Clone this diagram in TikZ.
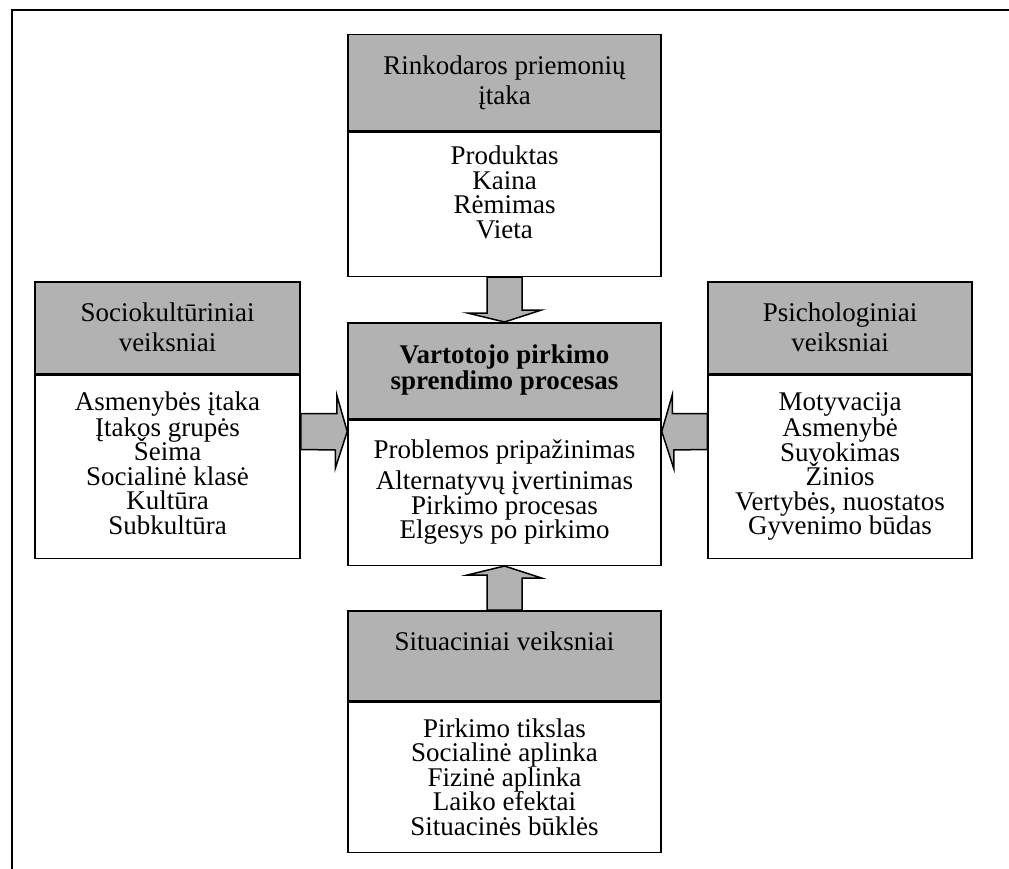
\documentclass[tikz,border=0pt]{standalone}
\usepackage{fontspec}
\setmainfont{Liberation Serif}
\usetikzlibrary{calc}

\definecolor{hdrgray}{gray}{0.70}
\newcommand\boxfont{\fontsize{27}{24.5}\selectfont\lineskiplimit -100pt\relax}
\tikzset{
  box/.style={draw, line width=1.5pt, inner sep=0pt, align=center, font=\boxfont},
  hdr/.style={box, fill=hdrgray},
  blockarrow/.style={draw, fill=hdrgray, line width=1.5pt, line join=miter},
  frame/.style={draw, line width=2pt}
}

\begin{document}
\begin{tikzpicture}[x=1pt,y=-1pt]
  \useasboundingbox (0,0) rectangle (1009,869);
  \draw[frame] (1009,10) -- (12,10) -- (12,869);

  % marketing mix (top)
  \node[hdr, minimum width=313pt, minimum height=96pt, anchor=north] (tophead) at (504.5,34)
    {Rinkodaros priemonių\\[5.5pt]įtaka};
  \node[box, minimum width=313pt, minimum height=144pt, anchor=north] (topbody) at (tophead.south)
    {Produktas\\Kaina\\Rėmimas\\Vieta\\\mbox{}};

  % decision process (centre)
  \node[hdr, minimum width=313pt, minimum height=96pt, anchor=north,
    font=\boxfont\bfseries] (ctrhead) at (504.5,322)
    {Vartotojo pirkimo\\[1.5pt]sprendimo procesas\strut};
  \node[box, minimum width=313pt, minimum height=145pt, anchor=north] (ctrbody) at (ctrhead.south)
    {Problemos pripažinimas\\[7pt]Alternatyvų įvertinimas\\Pirkimo procesas\\Elgesys po pirkimo\strut};

  % sociocultural (left)
  \node[hdr, minimum width=265pt, minimum height=92pt, anchor=north] (lfthead) at (167.5,281)
    {Sociokultūriniai\\[5.5pt]veiksniai};
  \node[box, minimum width=265pt, minimum height=183pt, anchor=north] (lftbody) at (lfthead.south)
    {Asmenybės įtaka\\[1.5pt]Įtakos grupės\\Šeima\\Socialinė klasė\\Kultūra\\Subkultūra\strut};

  % psychological (right)
  \node[hdr, minimum width=264pt, minimum height=92pt, anchor=north] (rgthead) at (840,281)
    {Psichologiniai\\[5.5pt]veiksniai};
  \node[box, minimum width=264pt, minimum height=183pt, anchor=north] (rgtbody) at (rgthead.south)
    {Motyvacija\\[1.5pt]Asmenybė\\Suvokimas\\Žinios\\Vertybės, nuostatos\\Gyvenimo būdas};

  % situational (bottom)
  \node[hdr, minimum width=313pt, minimum height=90pt, anchor=north] (sithead) at (504.5,610)
    {Situaciniai veiksniai\\[5.5pt]\mbox{}};
  \node[box, minimum width=313pt, minimum height=150pt, anchor=north] (sitbody) at (sithead.south)
    {Pirkimo tikslas\\Socialinė aplinka\\Fizinė aplinka\\Laiko efektai\\Situacinės būklės};

  % block arrows
  \draw[blockarrow] ($(topbody.south)+(-17.5,0)$) -- ++(0,36) -- ++(-19.5,0)
    -- (ctrhead.north) -- ++(37,-12) -- ++(-19.5,0) -- ($(topbody.south)+(17.5,0)$) -- cycle;
  \draw[blockarrow] ($(sithead.north)+(-17.5,0)$) -- ++(0,-35) -- ++(-19.5,0)
    -- (ctrbody.south) -- ++(37,12) -- ++(-19.5,0) -- ($(sithead.north)+(17.5,0)$) -- cycle;
  \coordinate (ltip) at ($(ctrbody.north west)+(0,12)$);
  \coordinate (rtip) at ($(ctrbody.north east)+(0,12)$);
  \draw[blockarrow] ($(lftbody.east |- ltip)+(0,-18)$) -- ++(36,0) -- ++(0,-18.5)
    -- (ltip) -- ++(-12,37) -- ++(0,-18.5) -- ($(lftbody.east |- ltip)+(0,18)$) -- cycle;
  \draw[blockarrow] ($(rgtbody.west |- rtip)+(0,-18)$) -- ++(-35,0) -- ++(0,-18.5)
    -- (rtip) -- ++(12,37) -- ++(0,-18.5) -- ($(rgtbody.west |- rtip)+(0,18)$) -- cycle;
\end{tikzpicture}
\end{document}
